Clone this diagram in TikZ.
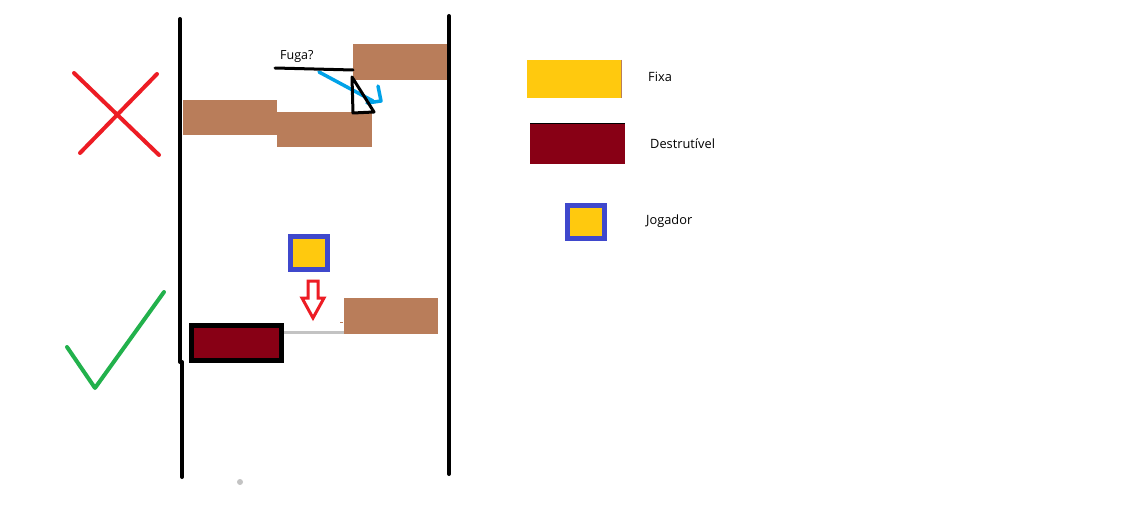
\documentclass[tikz,border=0pt]{standalone}
\usepackage{fontspec}
\setmainfont{Open Sans}
\definecolor{brownblk}{RGB}{185,125,90}
\definecolor{darkred}{RGB}{136,0,21}
\definecolor{gold}{RGB}{255,201,14}
\definecolor{pblue}{RGB}{63,72,204}
\definecolor{pred}{RGB}{237,28,36}
\definecolor{pgreen}{RGB}{34,177,76}
\definecolor{pcyan}{RGB}{0,162,232}
\definecolor{pgray}{RGB}{195,195,195}
\begin{document}
\begin{tikzpicture}[x=1pt,y=-1pt,
  wall/.style={line width=4pt,line cap=round},
  fixblk/.style={fill=brownblk},
  lbl/.style={anchor=west,inner sep=0pt,font=\fontsize{12.8}{15}\selectfont},
  signstroke/.style={line width=4pt,line cap=round,line join=round}]
\useasboundingbox[fill=white] (0,0) rectangle (1130,511);
% walls
\draw[wall] (180,19) -- (180,362);
\draw[wall] (182,362) -- (182,477);
\draw[wall] (449,16) -- (449,474);
% top scenario blocks
\fill[fixblk] (353,44) rectangle (447,80);
\fill[fixblk] (183,100) rectangle (277,135);
\fill[fixblk] (277,112) rectangle (372,147);
% Fuga
\node[lbl,font=\fontsize{12.5}{15}\selectfont] (fuga) at (280,56) {Fuga?};
\draw[pcyan,line width=3.5pt,line cap=round] (319,72) -- (373,101);
\draw[pcyan,line width=3.5pt,line cap=round,line join=round] (378,86) -- (381,101) -- (367,103);
\draw[line width=3pt,line cap=round] (275,68) -- (353,70);
\draw[line width=3pt,line join=round] (352,77) -- (353,113) -- (374,112) -- cycle;
% red X
\draw[pred,signstroke] (74,73) -- (159,155);
\draw[pred,signstroke] (157,74) -- (80,153);
% green check
\draw[pgreen,signstroke] (67,347) -- (95,388) -- (164,292);
% bottom scenario
\draw[pblue,line width=5pt,fill=gold] (290.5,236.5) rectangle (327.5,269.5);
\draw[pred,line width=3pt,line join=miter] (308,281) -- (318,281) -- (318,298) -- (324,298) -- (313,318) -- (302,298) -- (308,298) -- cycle;
\draw[pgray,line width=3pt] (283,332) -- (344,332);
\fill[fixblk] (344,298) rectangle (438,334);
\draw[brownblk,line width=1pt] (340,322) -- (343,322);
\draw[line width=5pt,fill=darkred] (191.5,325.5) rectangle (281.5,360.5);
\fill[pgray] (240,482) circle (3);
% legend
\fill[gold] (527,60) rectangle (621,98);
\draw[brownblk,line width=0.7pt] (621.3,60) -- (621.3,98);
\node[lbl] (fixa) at (648,77) {Fixa};
\fill[darkred] (530,123) rectangle (625,164);
\draw[line width=0.8pt] (530,123.4) -- (625,123.4);
\node[lbl] (destr) at (650,144) {Destrutível};
\draw[pblue,line width=5pt,fill=gold] (567.5,205.5) rectangle (604.5,238.5);
\node[lbl] (jog) at (646,221) {Jogador};
\end{tikzpicture}
\end{document}
